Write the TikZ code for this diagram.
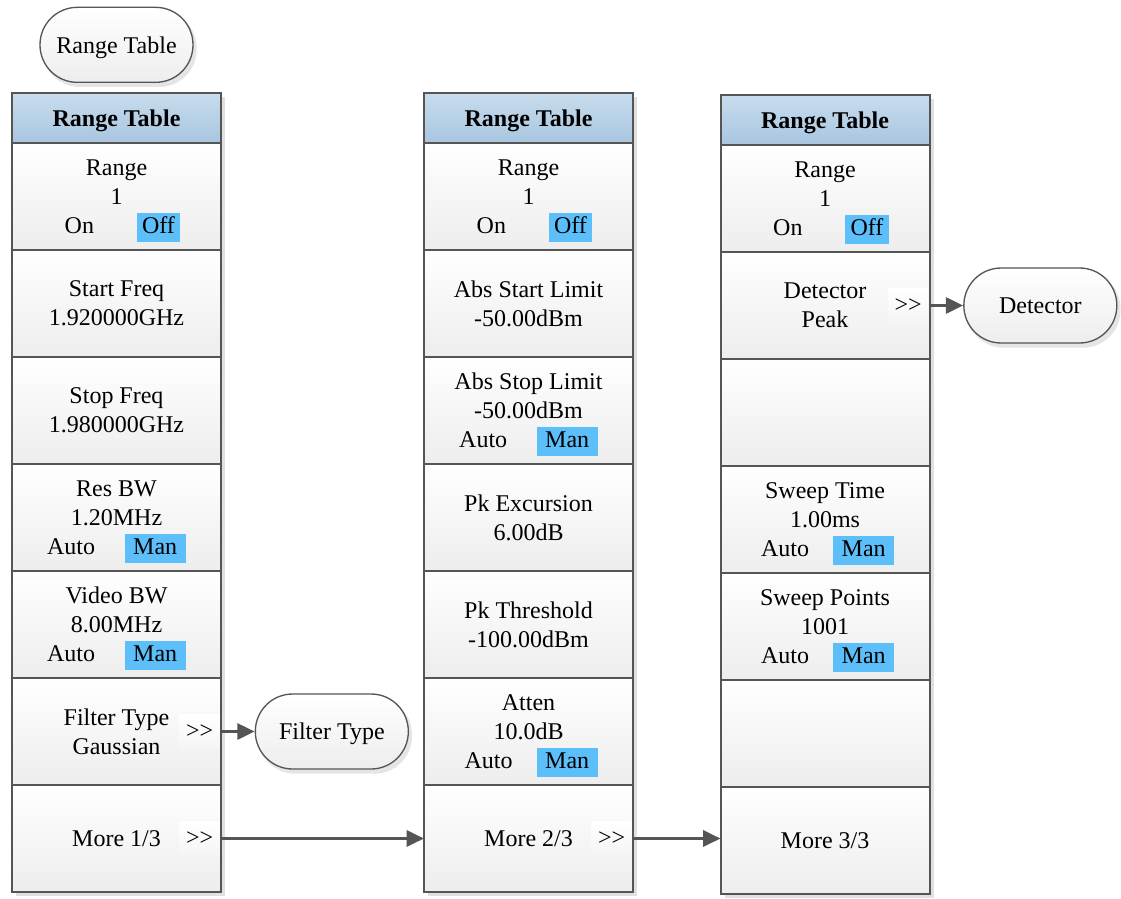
\documentclass[tikz,border=0pt]{standalone}
\usepackage{fontspec}
\setmainfont{Liberation Serif}
\usetikzlibrary{positioning, arrows.meta, backgrounds}

\definecolor{hlblue}{RGB}{92,191,250}
\definecolor{headtop}{RGB}{200,220,238}
\definecolor{headbot}{RGB}{168,198,223}
\definecolor{edge}{RGB}{85,85,85}

% highlighted choice, "On Off" and "Auto Man" lines
\newcommand{\hlbox}[2][5pt]{\smash{{\setlength{\fboxsep}{0pt}\colorbox{hlblue}{\hspace{#1}\strut #2\hspace{#1}}}}}
\newcommand{\onoff}{\hspace{9pt}On\hspace{32pt}\hlbox[4pt]{Off}}
\newcommand{\automan}[1][22pt]{\hspace{\dimexpr 22pt-#1\relax}Auto\hspace{#1}\hlbox[6.5pt]{Man}}
\newcommand{\gogo}{>\kern0pt>}

\begin{document}
\begin{tikzpicture}[
    x=0.75pt, y=-0.75pt,
    font=\fontsize{18}{21.75}\selectfont,
    cell/.style = {draw=edge, line width=1.5pt, rectangle, outer sep=0pt,
                   inner sep=0pt, align=center, minimum width=156.75pt,
                   minimum height=80.25pt, top color=white, bottom color=black!7},
    head/.style = {cell, minimum height=37.5pt, text depth=0pt, top color=headtop,
                   bottom color=headbot, font=\fontsize{18}{21.75}\selectfont\bfseries},
    gobox/.style = {anchor=east, minimum width=30pt, minimum height=25pt,
                    inner sep=0pt, top color=white, bottom color=black!4},
    pill/.style = {draw=edge, line width=1pt, rounded corners=28pt,
                   minimum width=114.75pt, minimum height=56.25pt, text depth=0pt,
                   top color=white, bottom color=black!7},
    arrow/.style = {-{Triangle[length=13pt, width=12pt]}, line width=2.25pt, draw=edge}
]
\useasboundingbox (0,0) rectangle (1121,899);

% first page
\node[head] (t1) at (116.5,118) {Range Table};
\node[cell, below=0pt of t1] (r1) {Range\\1\\\onoff};
\node[cell, below=0pt of r1] (sf) {Start Freq\\1.920000GHz};
\node[cell, below=0pt of sf] (spf) {Stop Freq\\1.980000GHz};
\node[cell, below=0pt of spf] (rbw) {Res BW\\1.20MHz\\\automan};
\node[cell, below=0pt of rbw] (vbw) {Video BW\\8.00MHz\\\automan};
\node[cell, below=0pt of vbw] (ft) {Filter Type\\Gaussian};
\node[cell, below=0pt of ft] (more1) {More 1/3};
\node[gobox] (ftgo) at ([xshift=-0.75pt]ft.east) {\gogo};
\node[gobox] (go1) at ([xshift=-0.75pt]more1.east) {\gogo};

% second page
\node[head] (t2) at (528.5,118) {Range Table};
\node[cell, below=0pt of t2] (r2) {Range\\1\\\onoff};
\node[cell, below=0pt of r2] (asl) {Abs Start Limit\\-50.00dBm};
\node[cell, below=0pt of asl] (aspl) {Abs Stop Limit\\-50.00dBm\\\automan};
\node[cell, below=0pt of aspl] (pkx) {Pk Excursion\\6.00dB};
\node[cell, below=0pt of pkx] (pkt) {Pk Threshold\\-100.00dBm};
\node[cell, below=0pt of pkt] (att) {Atten\\10.0dB\\\automan[18pt]};
\node[cell, below=0pt of att] (more2) {More 2/3};
\node[gobox] (go2) at ([xshift=-0.75pt]more2.east) {\gogo};

% third page
\node[head] (t3) at (825,120) {Range Table};
\node[cell, below=0pt of t3] (r3) {Range\\1\\\onoff};
\node[cell, below=0pt of r3] (det) {Detector\\Peak};
\node[cell, below=0pt of det] (e1) {};
\node[cell, below=0pt of e1] (swt) {Sweep Time\\1.00ms\\\automan[18pt]};
\node[cell, below=0pt of swt] (swp) {Sweep Points\\1001\\\automan[18pt]};
\node[cell, below=0pt of swp] (e2) {};
\node[cell, below=0pt of e2] (more3) {More 3/3};
\node[gobox] (detgo) at ([xshift=-0.75pt]det.east) {\gogo};

% soft keys
\node[pill, above=7.5pt of t1] (rtpill) {Range Table};
\node[pill, right=26pt of ftgo] (ftpill) {Filter Type};
\node[pill, right=26pt of detgo] (detpill) {Detector};

\draw[arrow] (ftgo.east) -- (ftpill.west);
\draw[arrow] (go1.east) -- (more2.west);
\draw[arrow] (go2.east) -- (go2.east -| more3.west);
\draw[arrow] (detgo.east) -- (detpill.west);

% shadows
\begin{scope}[on background layer]
\fill[black!12] ([shift={(4,4)}]t1.north west) rectangle ([shift={(4,4)}]more1.south east);
\fill[black!12] ([shift={(4,4)}]t2.north west) rectangle ([shift={(4,4)}]more2.south east);
\fill[black!12] ([shift={(4,4)}]t3.north west) rectangle ([shift={(4,4)}]more3.south east);
\fill[black!10, rounded corners=28pt] ([shift={(3,4)}]rtpill.north west) rectangle ([shift={(3,4)}]rtpill.south east);
\fill[black!10, rounded corners=28pt] ([shift={(3,4)}]ftpill.north west) rectangle ([shift={(3,4)}]ftpill.south east);
\fill[black!10, rounded corners=28pt] ([shift={(3,4)}]detpill.north west) rectangle ([shift={(3,4)}]detpill.south east);
\end{scope}
\end{tikzpicture}
\end{document}
